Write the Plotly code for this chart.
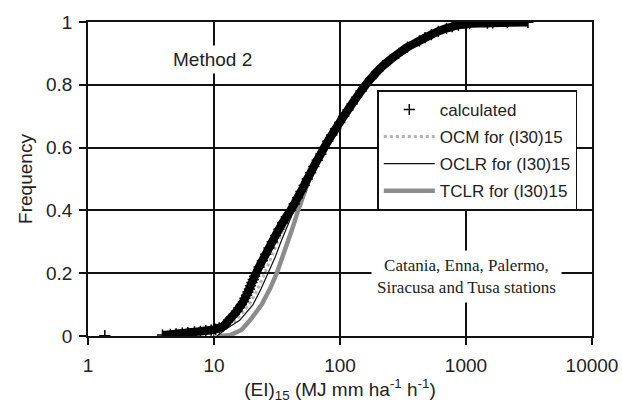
import plotly.graph_objects as go

# ---- data ----
calc_freq = [0.001, 0.003, 0.005, 0.007, 0.009, 0.011, 0.013, 0.015, 0.017, 0.019,
             0.022, 0.026, 0.031, 0.037, 0.045, 0.051, 0.06, 0.07, 0.08, 0.09,
             0.10, 0.11, 0.12, 0.13, 0.14, 0.15, 0.16, 0.17, 0.18, 0.19,
             0.20, 0.22, 0.24, 0.26, 0.28, 0.30, 0.32, 0.34, 0.36, 0.38,
             0.40, 0.42, 0.44, 0.46, 0.48, 0.50, 0.52, 0.54, 0.56, 0.58,
             0.60, 0.62, 0.64, 0.66, 0.68, 0.70, 0.72, 0.74, 0.76, 0.78,
             0.80, 0.82, 0.84, 0.86, 0.88, 0.90, 0.92, 0.94, 0.95, 0.96,
             0.97, 0.98, 0.985, 0.99, 0.993, 0.995, 0.996, 0.997, 0.998, 0.999]
calc_ei = [1.36, 3.9, 4.5, 5.0, 5.6, 6.2, 7.0, 7.8, 8.6, 9.5,
           10.3, 11.0, 11.8, 12.3, 12.8, 13.1, 13.8, 14.5, 15.2, 15.8,
           16.5, 17.1, 17.6, 18.1, 18.6, 19.1, 19.5, 20.0, 20.5, 21.0,
           21.6, 22.8, 24.2, 25.7, 27.3, 29.0, 30.8, 32.8, 35.0, 37.5,
           40.5, 43.3, 46.0, 49.0, 52, 55, 58.5, 62, 66, 70.5,
           75, 80, 86, 92.5, 99.5, 107, 115.5, 125, 135.5, 147,
           160, 176, 195, 219, 251, 292, 343, 427, 473, 531,
           603, 700, 776, 871, 1000, 1070, 1480, 1630, 2130, 3100]

ocm_freq = [0.0, 0.02, 0.05, 0.10, 0.15, 0.20, 0.30, 0.40, 0.50, 0.55, 0.60, 0.65,
            0.70, 0.75, 0.80, 0.85, 0.90, 0.95, 0.98, 0.999]
ocm_ei = [10.0, 11.7, 15.0, 19.0, 22.3, 25.3, 32.0, 41.5, 54, 62, 72, 87,
          107, 130, 160, 207, 292, 473, 700, 2000]

oclr_freq = [0.0, 0.01, 0.02, 0.05, 0.10, 0.15, 0.20, 0.25, 0.30, 0.35, 0.40, 0.45,
             0.50, 0.55, 0.60, 0.65, 0.70, 0.75, 0.80, 0.85, 0.90, 0.95, 0.98, 0.999]
oclr_ei = [10.6, 11.5, 12.2, 16.0, 20.4, 23.6, 26.8, 30.5, 34.0, 38.5, 43.0, 48.5,
           55, 63, 73, 88, 108, 131, 161, 207, 292, 473, 700, 2000]

tclr_freq = [0.0, 0.002, 0.02, 0.05, 0.10, 0.15, 0.20, 0.25, 0.30, 0.35, 0.40, 0.45,
             0.50, 0.55, 0.60, 0.65, 0.70, 0.75, 0.80, 0.85, 0.90, 0.95, 0.98, 0.995, 1.0]
tclr_ei = [11.0, 13.4, 16.6, 19.3, 23.9, 27.8, 31.5, 35.0, 38.5, 42.5, 46.5, 51,
           57, 64, 74, 88, 107, 131, 160, 207, 292, 473, 720, 1300, 2700]

x_tickvals = [1, 10, 100, 1000, 10000]
x_ticktext = ["1", "10", "100", "1000", "10000"]
y_tickvals = [0, 0.2, 0.4, 0.6, 0.8, 1]

ARIAL = "Arial, Liberation Sans, sans-serif"
TXT = "#222222"

fig = go.Figure()

fig.add_trace(go.Scatter(x=tclr_ei, y=tclr_freq, mode="lines", name="TCLR for (I30)15",
                         line=dict(color="#8c8c8c", width=4.5), legendrank=4,
                         legendgroup="d"))
fig.add_trace(go.Scatter(x=ocm_ei, y=ocm_freq, mode="lines", name="OCM for (I30)15",
                         line=dict(color="#b4b4b4", width=3, dash="dot"), legendrank=2,
                         legendgroup="b"))
fig.add_trace(go.Scatter(x=oclr_ei, y=oclr_freq, mode="lines", name="OCLR for (I30)15",
                         line=dict(color="#111111", width=1.2), legendrank=3,
                         legendgroup="c"))
# dense band formed by the overlapping calculated points
fig.add_trace(go.Scatter(x=calc_ei[1:], y=calc_freq[1:], mode="lines", showlegend=False,
                         line=dict(color="#000000", width=8.5, shape="spline", smoothing=0.6),
                         hoverinfo="skip"))
fig.add_trace(go.Scatter(x=calc_ei, y=calc_freq, mode="markers", name="calculated",
                         marker=dict(symbol="cross-thin", size=8, color="#000000",
                                     line=dict(color="#000000", width=1.5)),
                         legendrank=1, legendgroup="a"))

fig.update_layout(
    width=622, height=403,
    margin=dict(l=88, r=30, t=22, b=67),
    paper_bgcolor="white", plot_bgcolor="white",
    font=dict(family=ARIAL, size=19, color=TXT),
    showlegend=True,
    legend=dict(x=0.574, y=0.782, xanchor="left", yanchor="top",
                bgcolor="white", bordercolor="#111111", borderwidth=1.5,
                font=dict(family=ARIAL, size=17, color=TXT),
                itemwidth=51, tracegroupgap=2, traceorder="grouped"),
    xaxis=dict(type="log", range=[0, 4], tickvals=x_tickvals, ticktext=x_ticktext,
               automargin=False,
               showgrid=True, gridcolor="#111111", gridwidth=1.5,
               showline=True, linecolor="#111111", linewidth=1.5, mirror=True,
               ticks="outside", ticklen=7, tickwidth=1.5, tickcolor="#111111",
               tickfont=dict(size=19, color=TXT), ticklabelstandoff=4,
               title=dict(text="(EI)<sub>15</sub> (MJ mm ha<sup>-1</sup> h<sup>-1</sup>)",
                          font=dict(size=19, color=TXT), standoff=6),
               zeroline=False),
    yaxis=dict(range=[0, 1], tickvals=y_tickvals, automargin=False,
               showgrid=True, gridcolor="#111111", gridwidth=1.5,
               showline=True, linecolor="#111111", linewidth=1.5, mirror=True,
               ticks="outside", ticklen=7, tickwidth=1.5, tickcolor="#111111",
               tickfont=dict(size=19, color=TXT), ticklabelstandoff=3,
               title=dict(text="Frequency", font=dict(size=19, color=TXT), standoff=8),
               zeroline=False),
)

fig.add_annotation(text="Method 2", xref="paper", yref="paper", x=0.248, y=0.882,
                   xanchor="center", yanchor="middle",
                   showarrow=False, font=dict(family=ARIAL, size=19, color=TXT),
                   bgcolor="white", borderpad=3)
fig.add_annotation(text="Catania, Enna, Palermo,<br>Siracusa and Tusa stations",
                   xref="x", yref="paper", x=3, y=0.19, showarrow=False,
                   xanchor="center", yanchor="middle",
                   font=dict(family="Times New Roman, Liberation Serif, serif", size=17,
                             color=TXT),
                   bgcolor="white", borderpad=5)

fig.write_html("out.html")
